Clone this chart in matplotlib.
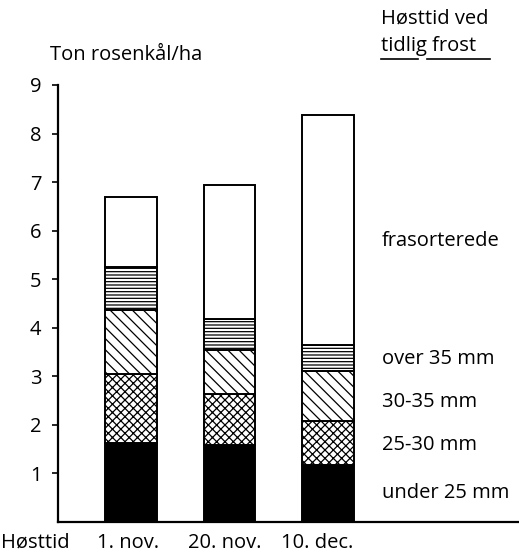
import matplotlib
matplotlib.use("Agg")
import matplotlib.pyplot as plt
import numpy as np
from matplotlib.lines import Line2D

plt.rcParams['font.family'] = ['Open Sans', 'DejaVu Sans']
plt.rcParams['hatch.linewidth'] = 0.9

categories = ["1. nov.", "20. nov.", "10. dec."]
series_names = ["under 25 mm", "25-30 mm", "30-35 mm", "over 35 mm", "frasorterede"]
under25 = [1.63, 1.58, 1.17]
mm25_30 = [1.42, 1.06, 0.92]
mm30_35 = [1.32, 0.91, 1.01]
over35 = [0.88, 0.63, 0.55]
frasorterede = [1.45, 2.77, 4.73]
yticks = [1, 2, 3, 4, 5, 6, 7, 8, 9]

series = [under25, mm25_30, mm30_35, over35, frasorterede]
styles = [dict(color="black", hatch=None),
          dict(color="white", hatch="xxxx"),
          dict(color="white", hatch="\\\\\\"),
          dict(color="white", hatch="-----"),
          dict(color="white", hatch=None)]

W, H = 519, 558
fig = plt.figure(figsize=(W / 100, H / 100), dpi=100)
ax = fig.add_axes([58 / W, (H - 522) / H, (W - 58) / W, (522 - 85) / H])

x = np.arange(len(categories))
bottom = np.zeros(len(categories))
for vals, st in zip(series, styles):
    ax.bar(x, vals, width=0.52, bottom=bottom, color=st["color"],
           edgecolor="black", linewidth=1.4, hatch=st["hatch"])
    bottom += np.array(vals)

ax.set_xlim(-0.74, 3.94)
ax.set_ylim(0, 9)
ax.set_yticks(yticks)
ax.set_yticklabels([str(t) for t in yticks], fontsize=14.5)
ax.tick_params(axis="y", length=4, width=1.2, pad=8)
ax.set_xticks([])
for s in ["top", "right"]:
    ax.spines[s].set_visible(False)
ax.spines["left"].set_linewidth(1.6)
ax.spines["bottom"].set_linewidth(1.6)

def fx(px):
    return px / W

def fy(py):
    return (H - py) / H

fs = 14.5
for cat, px in zip(categories, [128, 225, 317]):
    fig.text(fx(px), fy(543), cat, ha="center", va="center", fontsize=fs)
fig.text(fx(1), fy(543), "Høsttid", ha="left", va="center", fontsize=fs)

fig.text(fx(50), fy(55), "Ton rosenkål/ha", ha="left", va="center", fontsize=fs)
fig.text(fx(381), fy(19), "Høsttid ved", ha="left", va="center", fontsize=fs)
fig.text(fx(381), fy(46), "tidlig frost", ha="left", va="center", fontsize=fs)
fig.add_artist(Line2D([fx(381), fx(418)], [fy(59), fy(59)], color="black", lw=1.2, transform=fig.transFigure))
fig.add_artist(Line2D([fx(427), fx(490)], [fy(59), fy(59)], color="black", lw=1.2, transform=fig.transFigure))

label_y = [493, 445, 402, 359, 241]
for name, py in zip(series_names, label_y):
    fig.text(fx(382), fy(py), name, ha="left", va="center", fontsize=fs)

fig.savefig("out.png", dpi=100)
